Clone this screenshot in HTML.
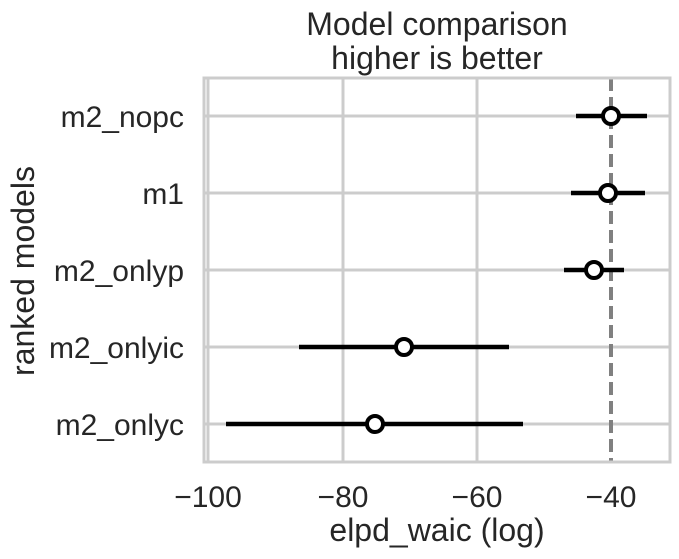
<!DOCTYPE html><html><head><style>body{margin:0;background:#fff}svg{display:block}text{font-family:"Liberation Sans",sans-serif;fill:#262626}</style></head><body>
<svg width="679" height="559" viewBox="0 0 679 559">
<g stroke="#cccccc" stroke-width="3">
<line x1="208" y1="78" x2="208" y2="462"/><line x1="343" y1="78" x2="343" y2="462"/><line x1="477" y1="78" x2="477" y2="462"/>
<line x1="204" y1="116" x2="670" y2="116"/><line x1="204" y1="193" x2="670" y2="193"/><line x1="204" y1="270" x2="670" y2="270"/><line x1="204" y1="347" x2="670" y2="347"/><line x1="204" y1="424" x2="670" y2="424"/>
</g>
<line x1="611" y1="78" x2="611" y2="462" stroke="#808080" stroke-width="4" stroke-dasharray="13,6"/>
<rect x="204" y="78" width="466" height="384" fill="none" stroke="#cccccc" stroke-width="3"/>
<g stroke="#000" stroke-width="4.5">
<line x1="576" y1="116" x2="647" y2="116"/><line x1="571" y1="193" x2="645" y2="193"/><line x1="564" y1="270" x2="624" y2="270"/><line x1="299" y1="347" x2="509" y2="347"/><line x1="226" y1="424" x2="523" y2="424"/>
</g>
<g fill="#fff" stroke="#000" stroke-width="4">
<circle cx="611" cy="116" r="8"/><circle cx="608" cy="193" r="8"/><circle cx="594" cy="270" r="8"/><circle cx="404" cy="347" r="8"/><circle cx="375" cy="424" r="8"/>
</g>
<g font-size="30" text-anchor="end">
<text x="184" y="127">m2_nopc</text><text x="184" y="204">m1</text><text x="184" y="281">m2_onlyp</text><text x="184" y="358">m2_onlyic</text><text x="184" y="435">m2_onlyc</text>
</g>
<g font-size="30" text-anchor="middle">
<text x="208" y="507">−100</text><text x="343" y="507">−80</text><text x="477" y="507">−60</text><text x="611" y="507">−40</text>
</g>
<text x="437" y="541" font-size="32" text-anchor="middle">elpd_waic (log)</text>
<text x="437" y="35" font-size="32" text-anchor="middle">Model comparison</text>
<text x="437" y="69" font-size="32" text-anchor="middle">higher is better</text>
<text transform="translate(34,271) rotate(-90)" font-size="32" text-anchor="middle">ranked models</text>
</svg></body></html>
